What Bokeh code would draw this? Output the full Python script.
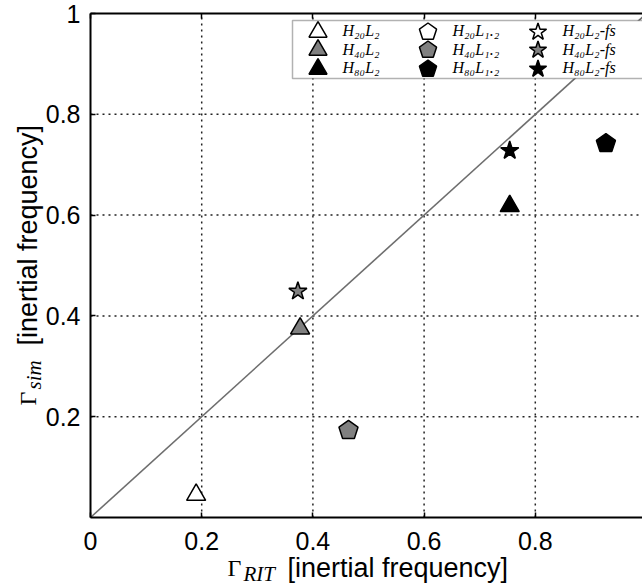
import math
from bokeh.plotting import figure
from bokeh.models import (Range1d, FixedTicker, LinearAxis, Legend, LegendItem,
                          Label, BoxAnnotation)
from bokeh.embed import file_html
from bokeh.resources import INLINE

NAN = float("nan")

# ---------------- data ----------------
series_colors = ["white", "#808080", "black"]

tri_labels = ["H\u2082\u2080L\u2082", "H\u2084\u2080L\u2082", "H\u2088\u2080L\u2082"]
tri_x = [0.190, 0.377, 0.754]
tri_y = [0.045, 0.375, 0.618]

# H20 L1.2 and H20 L2-fs have no point in the plot (legend entries only)
pent_labels = ["H\u2082\u2080L\u2081.\u2082", "H\u2084\u2080L\u2081.\u2082", "H\u2088\u2080L\u2081.\u2082"]
pent_x = [NAN, 0.464, 0.927]
pent_y = [NAN, 0.173, 0.742]

star_labels = ["H\u2082\u2080L\u2082-fs", "H\u2084\u2080L\u2082-fs", "H\u2088\u2080L\u2082-fs"]
star_x = [NAN, 0.373, 0.754]
star_y = [NAN, 0.449, 0.728]

diag_x = [0, 1]
diag_y = [0, 1]

x_ticks = [0, 0.2, 0.4, 0.6, 0.8, 1]
x_tick_labels = ["0", "0.2", "0.4", "0.6", "0.8", "1"]
y_ticks = [0.2, 0.4, 0.6, 0.8, 1]
y_tick_labels = ["0.2", "0.4", "0.6", "0.8", "1"]

AXIS_BOUNDS = (0, 1)

# ---------------- geometry (pixels) ----------------
W, H = 642, 586
X0_PX, X1_PX = 90, 646      # pixel of x=0 and x=1
Y0_PX, Y1_PX = 517, 13      # pixel of y=0 and y=1
SX = (X1_PX - X0_PX)
SY = (Y0_PX - Y1_PX)

def dx(px):
    return (px - X0_PX) / SX

def dy(py):
    return (Y0_PX - py) / SY

p = figure(width=W, height=H,
           x_range=Range1d(dx(0), dx(W)), y_range=Range1d(dy(H), dy(0)),
           output_backend="svg", toolbar_location=None,
           min_border_left=0, min_border_right=0, min_border_top=0, min_border_bottom=0)
p.outline_line_color = None
p.background_fill_color = "white"
p.border_fill_color = "white"
p.xgrid.visible = False
p.ygrid.visible = False

TICK_FONT = "Liberation Sans"

def style_axis(ax, ticks, labs, standoff):
    ax.ticker = FixedTicker(ticks=ticks)
    ax.bounds = AXIS_BOUNDS
    ax.fixed_location = AXIS_BOUNDS[0]
    if labs is not None:
        ax.major_label_overrides = {t: l for t, l in zip(ticks, labs)}
        ax.major_label_text_font = TICK_FONT
        ax.major_label_text_font_size = "25px"
        ax.major_label_text_color = "black"
        ax.major_label_standoff = standoff
    ax.major_tick_in = 5
    ax.major_tick_out = 0
    ax.major_tick_line_width = 1.5
    ax.minor_tick_line_color = None
    ax.axis_line_width = 2
    ax.axis_line_color = "black"

style_axis(p.xaxis[0], x_ticks, x_tick_labels, 14)
style_axis(p.yaxis[0], y_ticks, y_tick_labels, 10)

top_axis = LinearAxis()
style_axis(top_axis, x_ticks, None, 0)
top_axis.fixed_location = AXIS_BOUNDS[1]
top_axis.major_label_text_color = None
p.add_layout(top_axis, "above")

# dotted grid, limited to the axes box
gx = x_ticks[1:-1]
gy = y_ticks[:-1]
grid_style = dict(line_color="#222222", line_dash="2 4", line_width=1.5, level="underlay")
p.segment(x0=gx, y0=[AXIS_BOUNDS[0]] * len(gx), x1=gx, y1=[AXIS_BOUNDS[1]] * len(gx), **grid_style)
p.segment(x0=[AXIS_BOUNDS[0]] * len(gy), y0=gy, x1=[AXIS_BOUNDS[1]] * len(gy), y1=gy, **grid_style)

# diagonal reference line
p.line(diag_x, diag_y, line_color="#6e6e6e", line_width=1.6)

# ---------------- markers ----------------
tri_r, pent_r, star_r = [], [], []
for i in range(3):
    tri_r.append(p.scatter([tri_x[i]], [tri_y[i]], marker="triangle", size=19,
                           fill_color=series_colors[i], line_color="black", line_width=1.5))
for i in range(3):
    pent_r.append(p.ngon(x=[pent_x[i]], y=[pent_y[i]], radius=10, radius_units="screen", n=5,
                         fill_color=series_colors[i], line_color="black", line_width=1.5))
for i in range(3):
    star_r.append(p.scatter([star_x[i]], [star_y[i]], marker="star", size=19,
                            fill_color=series_colors[i], line_color="black", line_width=1.5))

# ---------------- legend ----------------
box = BoxAnnotation(left=dx(292), right=dx(670), top=dy(20), bottom=dy(78),
                    fill_color="white", fill_alpha=1.0, line_color="black", line_width=1.5)
p.add_layout(box)

row_centers = [31.0, 49.5, 68.0]
CELL = 45
for r in range(3):
    lg = Legend(items=[LegendItem(label=tri_labels[r], renderers=[tri_r[r]]),
                       LegendItem(label=pent_labels[r], renderers=[pent_r[r]]),
                       LegendItem(label=star_labels[r], renderers=[star_r[r]])],
                orientation="horizontal",
                location=(294.5, H - (row_centers[r] + CELL / 2)),
                margin=0, padding=0, glyph_width=CELL, glyph_height=CELL,
                label_width=62, label_height=16, spacing=0, label_standoff=3,
                background_fill_alpha=0, border_line_alpha=0,
                label_text_font="Liberation Serif", label_text_font_style="italic",
                label_text_font_size="16px", label_text_color="black")
    p.add_layout(lg)

# ---------------- axis titles ----------------
def lab(text, px, py, font, size, style="normal", angle=0.0):
    p.add_layout(Label(x=dx(px), y=dy(py), text=text, text_font=font, text_font_size=size,
                       text_font_style=style, angle=angle, text_align="left",
                       text_baseline="alphabetic", text_color="black"))

lab("\u0393", 227, 567, "Liberation Serif", "24px")
lab("RIT", 243, 573, "Liberation Serif", "21px", "italic")
lab("[inertial frequency]", 287, 567, "Liberation Sans", "27px")

lab("\u0393", 27, 405, "Liberation Serif", "24px", angle=math.pi / 2)
lab("sim", 33, 389, "Liberation Serif", "21px", "italic", angle=math.pi / 2)
lab("[inertial frequency]", 27, 345, "Liberation Sans", "27px", angle=math.pi / 2)

open("out.html", "w").write(file_html(p, INLINE))
